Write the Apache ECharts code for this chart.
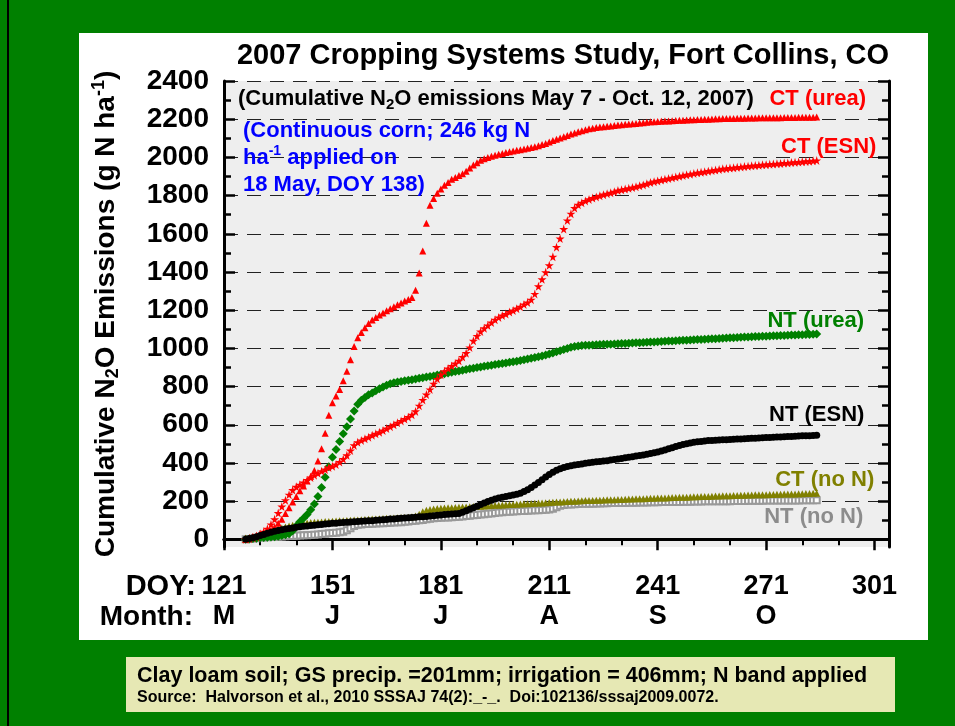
<!DOCTYPE html>
<html>
<head>
<meta charset="utf-8">
<script src="https://cdn.jsdelivr.net/npm/echarts@6.0.0/dist/echarts.min.js"></script>
<style>
  html, body { margin: 0; padding: 0; background: #008000; }
  #chart { width: 955px; height: 726px; }
</style>
</head>
<body>
<div id="chart"></div>
<script>
  // day of year for every reading, May 7 (127) .. Oct 12 (285)
  const firstDoy = 127
  const lastDoy = 285
  const days = []
  for (let d = firstDoy; d <= lastDoy; d++) days.push(d)

  // axis ticks
  const doyTicks = [121, 151, 181, 211, 241, 271, 301]
  const monthLabels = ['M', 'J', 'J', 'A', 'S', 'O', '']
  const doyMinor = [131, 141, 161, 171, 191, 201, 221, 231, 251, 261, 281, 291]
  const yTicks = [0, 200, 400, 600, 800, 1000, 1200, 1400, 1600, 1800, 2000, 2200, 2400]
  const yMinor = [100, 300, 500, 700, 900, 1100, 1300, 1500, 1700, 1900, 2100, 2300]

  // cumulative N2O (g N/ha), one value per day
  const ctUrea = [
    0, 8, 15, 22, 28, 35, 40, 47, 65, 85,
    105, 135, 165, 195, 225, 255, 280, 305, 330, 360,
    410, 475, 555, 650, 715, 750, 785, 830, 880, 940,
    1010, 1055, 1083, 1108, 1130, 1148, 1162, 1175, 1185, 1197,
    1208, 1218, 1228, 1238, 1248, 1256, 1266, 1305, 1395, 1510,
    1655, 1750, 1785, 1812, 1835, 1854, 1868, 1885, 1895, 1905,
    1915, 1928, 1945, 1960, 1972, 1985, 1993, 2000, 2006, 2011,
    2016, 2021, 2025, 2029, 2033, 2037, 2040, 2044, 2048, 2052,
    2056, 2061, 2067, 2073, 2080, 2088, 2095, 2102, 2108, 2115,
    2122, 2128, 2134, 2140, 2145, 2150, 2153, 2156, 2159, 2161,
    2163, 2165, 2167, 2169, 2171, 2173, 2175, 2176, 2178, 2180,
    2182, 2184, 2186, 2187, 2188, 2189, 2190, 2191, 2192, 2193,
    2194, 2195, 2196, 2197, 2197, 2198, 2199, 2200, 2200, 2201,
    2202, 2202, 2203, 2203, 2204, 2204, 2205, 2205, 2205, 2206,
    2206, 2206, 2207, 2207, 2207, 2208, 2208, 2208, 2208, 2209,
    2209, 2209, 2209, 2210, 2210, 2210, 2210, 2210, 2211
  ]
  const ctEsn = [
    0, 3, 8, 13, 28, 40, 55, 78, 105, 138,
    172, 205, 234, 258, 275, 286, 297, 310, 324, 336,
    346, 357, 366, 376, 383, 392, 405, 420, 440, 465,
    492, 508, 518, 527, 535, 545, 553, 561, 570, 580,
    590, 600, 610, 620, 630, 640, 652, 670, 700, 730,
    758, 785, 815, 840, 862, 880, 895, 908, 920, 935,
    955, 975, 1005, 1040, 1065, 1088, 1105, 1120, 1135, 1150,
    1162, 1172, 1180, 1190, 1198, 1208, 1218, 1230, 1240, 1255,
    1285, 1325, 1362, 1398, 1435, 1480, 1530, 1575, 1625, 1670,
    1705, 1735, 1752, 1762, 1772, 1780, 1787, 1793, 1799, 1805,
    1810, 1815, 1820, 1826, 1830, 1834, 1838, 1842, 1846, 1851,
    1856, 1862, 1868, 1873, 1877, 1881, 1885, 1889, 1893, 1897,
    1901, 1905, 1909, 1912, 1916, 1919, 1922, 1925, 1928, 1931,
    1934, 1937, 1940, 1942, 1944, 1946, 1948, 1950, 1952, 1954,
    1956, 1957, 1959, 1961, 1962, 1964, 1965, 1967, 1968, 1970,
    1971, 1973, 1974, 1976, 1977, 1979, 1980, 1982, 1984
  ]
  const ntUrea = [
    0, 2, 4, 6, 8, 10, 11, 12, 14, 16,
    20, 24, 30, 45, 70, 92, 110, 130, 155, 185,
    225, 272, 325, 380, 430, 470, 512, 553, 590, 630,
    672, 708, 728, 743, 757, 767, 778, 788, 798, 807,
    815, 820, 824, 827, 830, 833, 836, 840, 843, 846,
    850, 853, 856, 860, 863, 867, 871, 875, 879, 882,
    886, 890, 893, 896, 900, 903, 906, 909, 912, 915,
    918, 921, 924, 927, 930, 933, 936, 940, 944, 948,
    952, 956, 960, 965, 970, 976, 982, 988, 994, 1000,
    1006, 1010, 1013, 1015, 1016, 1017, 1018, 1019, 1020, 1021,
    1021, 1022, 1023, 1024, 1025, 1026, 1027, 1028, 1029, 1030,
    1031, 1032, 1033, 1034, 1035, 1036, 1037, 1038, 1039, 1040,
    1041, 1042, 1043, 1044, 1045, 1046, 1047, 1048, 1049, 1050,
    1051, 1052, 1053, 1054, 1055, 1056, 1057, 1058, 1059, 1060,
    1061, 1062, 1062, 1063, 1064, 1065, 1066, 1066, 1067, 1068,
    1069, 1070, 1070, 1071, 1072, 1073, 1073, 1074, 1075
  ]
  const ntEsn = [
    0, 4, 9, 14, 20, 26, 32, 37, 42, 46,
    50, 54, 57, 60, 63, 66, 68, 70, 72, 74,
    76, 78, 80, 82, 84, 85, 87, 88, 90, 91,
    92, 94, 95, 96, 97, 98, 100, 101, 103, 104,
    106, 107, 109, 110, 112, 113, 115, 116, 118, 119,
    120, 122, 124, 126, 128, 130, 132, 133, 134, 136,
    142, 150, 158, 166, 174, 182, 190, 198, 205, 211,
    216, 220, 224, 228, 232, 236, 242, 250, 260, 272,
    285, 298, 312, 326, 340, 352, 362, 370, 376, 381,
    385, 389, 392, 395, 398, 401, 404, 406, 408, 410,
    412, 415, 418, 421, 424, 427, 430, 433, 436, 439,
    442, 446, 450, 454, 458, 463, 468, 474, 480, 486,
    492, 497, 501, 505, 508, 511, 513, 515, 517, 518,
    519, 520, 521, 522, 523, 524, 525, 526, 527, 528,
    529, 530, 531, 532, 533, 534, 535, 536, 536, 537,
    538, 539, 540, 541, 542, 543, 543, 544, 545
  ]
  const ctNoN = [
    0, 6, 12, 18, 24, 30, 36, 42, 48, 54,
    60, 65, 70, 74, 78, 81, 84, 86, 88, 89,
    90, 91, 93, 94, 95, 96, 97, 98, 99, 100,
    101, 102, 103, 104, 105, 106, 107, 108, 109, 110,
    111, 112, 113, 114, 115, 116, 118, 122, 132, 144,
    152, 156, 159, 161, 163, 164, 165, 166, 167, 168,
    169, 170, 171, 172, 173, 174, 175, 176, 177, 178,
    179, 180, 181, 182, 183, 184, 185, 186, 187, 188,
    189, 190, 191, 192, 193, 194, 195, 196, 197, 198,
    199, 200, 201, 202, 203, 203, 204, 205, 205, 206,
    207, 207, 208, 209, 209, 210, 211, 211, 212, 213,
    213, 214, 215, 215, 216, 217, 217, 218, 219, 219,
    220, 221, 221, 222, 223, 223, 224, 225, 225, 226,
    227, 227, 228, 229, 229, 230, 230, 231, 231, 232,
    232, 233, 233, 234, 234, 235, 235, 236, 236, 237,
    237, 238, 238, 239, 239, 240, 240, 241, 241
  ]
  const ntNoN = [
    0, 2, 4, 6, 8, 10, 11, 12, 13, 14,
    15, 16, 17, 18, 19, 20, 21, 22, 23, 24,
    26, 28, 30, 32, 33, 35, 37, 40, 48, 58,
    70, 76, 78, 80, 81, 82, 83, 84, 85, 86,
    87, 88, 89, 90, 92, 94, 96, 98, 100, 102,
    105, 108, 110, 112, 113, 114, 115, 116, 117, 118,
    120, 122, 124, 126, 128, 130, 132, 134, 136, 138,
    140, 142, 144, 145, 146, 147, 148, 149, 150, 151,
    152, 153, 154, 155, 156, 160, 168, 176, 180, 182,
    183, 184, 185, 186, 186, 187, 187, 188, 188, 189,
    189, 190, 190, 191, 191, 191, 192, 192, 192, 193,
    193, 193, 194, 194, 194, 195, 195, 195, 196, 196,
    196, 197, 197, 197, 198, 198, 198, 199, 199, 199,
    199, 200, 200, 200, 200, 201, 201, 201, 201, 202,
    202, 202, 202, 202, 203, 203, 203, 203, 203, 204,
    204, 204, 204, 204, 205, 205, 205, 205, 205
  ]

  const FONT = "'Liberation Sans', Arial, sans-serif"
  const STAR = 'path://M50,0 L61,35 L98,35 L68,57 L79,91 L50,70 L21,91 L32,57 L2,35 L39,35 Z'

  // scatter series, name shown next to the last reading
  const makeSeries = (name, vals, symbol, size, color, labelColor, offset) => {
    const last = vals.length - 1
    return {
      name,
      type: 'scatter',
      symbol,
      symbolSize: size,
      itemStyle: { color, opacity: 1 },
      data: vals.map((v, i) => {
        if (i !== last) return [days[i], v]
        return {
          value: [days[i], v],
          label: {
            show: true,
            formatter: name,
            position: 'inside',
            offset,
            color: labelColor,
            opacity: 1,
            textBorderWidth: 0,
            textBorderColor: 'transparent',
            fontFamily: FONT,
            fontWeight: 'bold',
            fontSize: 22
          }
        }
      })
    }
  }

  const chart = echarts.init(document.getElementById('chart'))

  chart.setOption({
    animation: false,
    backgroundColor: '#008000',
    textStyle: { fontFamily: FONT },
    title: {
      text: '2007 Cropping Systems Study, Fort Collins, CO',
      left: 558,
      top: 36,
      textAlign: 'center',
      textStyle: { fontFamily: FONT, fontWeight: 'bold', fontSize: 29, color: '#000' }
    },
    grid: {
      left: 224,
      right: 66,
      top: 81,
      bottom: 179,
      show: true,
      backgroundColor: '#EEEEEE',
      borderWidth: 0
    },
    xAxis: [
      {
        type: 'value',
        position: 'bottom',
        min: 121,
        max: 305,
        axisLine: { lineStyle: { color: '#000', width: 3 } },
        axisTick: { customValues: doyTicks, inside: false, length: 11, lineStyle: { color: '#000', width: 2.5 } },
        axisLabel: {
          customValues: doyTicks,
          margin: 25,
          formatter: (v) => '{a|' + v + '}\n{b|' + monthLabels[doyTicks.indexOf(v)] + '}',
          rich: {
            a: { fontFamily: FONT, fontWeight: 'bold', fontSize: 27, lineHeight: 30, color: '#000' },
            b: { fontFamily: FONT, fontWeight: 'bold', fontSize: 27, lineHeight: 30, color: '#000' }
          }
        },
        splitLine: { show: false }
      },
      {
        type: 'value',
        position: 'bottom',
        min: 121,
        max: 305,
        axisLine: { show: false },
        axisTick: { customValues: doyMinor, inside: false, length: 6, lineStyle: { color: '#000', width: 2 } },
        axisLabel: { show: false },
        splitLine: { show: false }
      },
      {
        type: 'value',
        position: 'top',
        min: 121,
        max: 305,
        axisLine: { lineStyle: { color: '#000', width: 3 } },
        axisTick: { show: false },
        axisLabel: { show: false },
        splitLine: { show: false }
      }
    ],
    yAxis: [
      {
        type: 'value',
        position: 'left',
        min: -40,
        max: 2400,
        name: '{t|Cumulative N}{s|2}{t|O Emissions (g N ha}{p|-1}{t|)}',
        nameLocation: 'middle',
        nameRotate: 90,
        nameGap: 102,
        nameTextStyle: {
          rich: {
            t: { fontFamily: FONT, fontWeight: 'bold', fontSize: 28, lineHeight: 32, color: '#000' },
            s: { fontFamily: FONT, fontWeight: 'bold', fontSize: 18, lineHeight: 32, verticalAlign: 'bottom', color: '#000' },
            p: { fontFamily: FONT, fontWeight: 'bold', fontSize: 18, lineHeight: 32, verticalAlign: 'top', color: '#000' }
          }
        },
        axisLine: { lineStyle: { color: '#000', width: 3 } },
        axisTick: { customValues: yTicks, inside: true, length: 11, lineStyle: { color: '#000', width: 2.5 } },
        axisLabel: {
          customValues: yTicks,
          margin: 15,
          formatter: (v) => String(v),
          fontFamily: FONT,
          fontWeight: 'bold',
          fontSize: 28,
          color: '#000'
        },
        splitLine: { show: true, lineStyle: { color: '#222', width: 1.2, type: [14, 9] } }
      },
      {
        type: 'value',
        position: 'left',
        min: -40,
        max: 2400,
        axisLine: { show: false },
        axisTick: { customValues: yMinor, inside: true, length: 7, lineStyle: { color: '#000', width: 2.5 } },
        axisLabel: { show: false },
        splitLine: { show: false }
      },
      {
        type: 'value',
        position: 'right',
        min: -40,
        max: 2400,
        axisLine: { lineStyle: { color: '#000', width: 3 } },
        axisTick: { customValues: yTicks, inside: true, length: 11, lineStyle: { color: '#000', width: 2.5 } },
        axisLabel: { show: false },
        splitLine: { show: false }
      },
      {
        type: 'value',
        position: 'right',
        min: -40,
        max: 2400,
        axisLine: { show: false },
        axisTick: { customValues: yMinor, inside: true, length: 7, lineStyle: { color: '#000', width: 2.5 } },
        axisLabel: { show: false },
        splitLine: { show: false }
      }
    ],
    series: [
      makeSeries('NT (no N)', ntNoN, 'emptyRect', 6, '#999999', '#8C8C8C', [-3, 17]),
      makeSeries('CT (no N)', ctNoN, 'triangle', 7, '#808000', '#808000', [8, -13]),
      makeSeries('NT (urea)', ntUrea, 'diamond', 9, '#008000', '#008000', [-1, -13]),
      makeSeries('CT (ESN)', ctEsn, STAR, 9, '#FF0000', '#FF0000', [12, -14]),
      makeSeries('CT (urea)', ctUrea, 'triangle', 7, '#FF0000', '#FF0000', [1, -18]),
      makeSeries('NT (ESN)', ntEsn, 'circle', 7, '#000000', '#000000', [0, -20])
    ],
    graphic: [
      // slide panel and left rule
      { type: 'rect', z: -100, shape: { x: 79, y: 33, width: 849, height: 607 }, style: { fill: '#FFFFFF' } },
      { type: 'rect', z: -100, shape: { x: 7, y: 0, width: 2, height: 726 }, style: { fill: '#000000' } },
      {
        type: 'text',
        z: 10,
        style: {
          x: 238,
          y: 99,
          text: '{a|(Cumulative N}{s|2}{a|O emissions May 7 - Oct. 12, 2007)}',
          align: 'left',
          verticalAlign: 'middle',
          rich: {
            a: { fontFamily: FONT, fontWeight: 'bold', fontSize: 22, lineHeight: 26, fill: '#000' },
            s: { fontFamily: FONT, fontWeight: 'bold', fontSize: 15, lineHeight: 26, verticalAlign: 'bottom', fill: '#000' }
          }
        }
      },
      {
        type: 'text',
        z: 10,
        style: {
          x: 243,
          y: 117,
          text: '{b|(Continuous corn; 246 kg N}\n{b|ha}{p|-1}{b| applied on}\n{b|18 May, DOY 138)}',
          align: 'left',
          verticalAlign: 'top',
          rich: {
            b: { fontFamily: FONT, fontWeight: 'bold', fontSize: 22, lineHeight: 27, fill: '#0000FF' },
            p: { fontFamily: FONT, fontWeight: 'bold', fontSize: 14, lineHeight: 27, verticalAlign: 'top', fill: '#0000FF' }
          }
        }
      },
      {
        type: 'text',
        style: { x: 196, y: 587, text: 'DOY:', align: 'right', verticalAlign: 'middle', fontFamily: FONT, fontWeight: 'bold', fontSize: 29, fill: '#000' }
      },
      {
        type: 'text',
        style: { x: 193, y: 617, text: 'Month:', align: 'right', verticalAlign: 'middle', fontFamily: FONT, fontWeight: 'bold', fontSize: 28, fill: '#000' }
      },
      // footer note
      { type: 'rect', shape: { x: 126, y: 657, width: 769, height: 55 }, style: { fill: '#E6E8B4' } },
      {
        type: 'text',
        style: {
          x: 137, y: 676,
          text: 'Clay loam soil; GS precip. =201mm; irrigation = 406mm; N band applied',
          align: 'left', verticalAlign: 'middle',
          fontFamily: FONT, fontWeight: 'bold', fontSize: 21.5, fill: '#000'
        }
      },
      {
        type: 'text',
        style: {
          x: 137, y: 698,
          text: 'Source:  Halvorson et al., 2010 SSSAJ 74(2):_-_.  Doi:102136/sssaj2009.0072.',
          align: 'left', verticalAlign: 'middle',
          fontFamily: FONT, fontWeight: 'bold', fontSize: 16, fill: '#000'
        }
      }
    ]
  })
</script>
</body>
</html>
